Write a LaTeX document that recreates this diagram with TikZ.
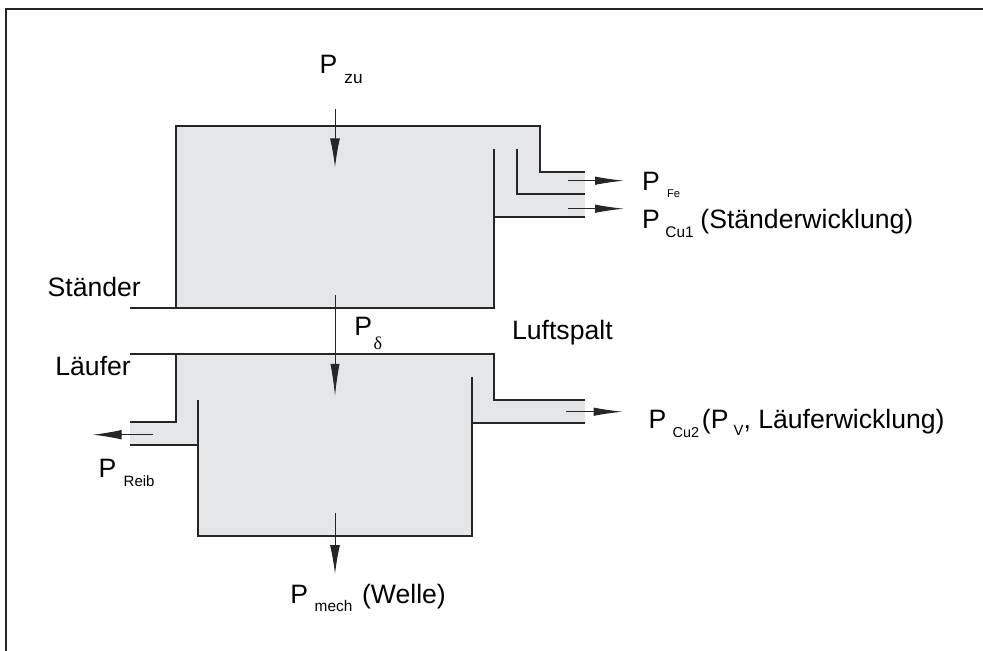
\documentclass[tikz,border=0pt]{standalone}
\usepackage{fontspec}
\setmainfont{Liberation Sans}
\newfontfamily\greekfont{Liberation Serif}
\usetikzlibrary{arrows.meta}

\definecolor{boxfill}{RGB}{229,230,232}
\definecolor{edge}{RGB}{38,38,38}

\begin{document}
\begin{tikzpicture}[x=0.5pt,y=-0.5pt,
  frameline/.style={draw=edge,line width=0.9pt},
  wall/.style={draw=edge,line width=1.05pt},
  flow/.style={draw=edge,line width=0.5pt,-{Latex[length=14.5pt,width=5pt]}},
  sideflow/.style={draw=edge,line width=0.5pt,-{Latex[length=14.5pt,width=4.2pt]}},
  lbl/.style={anchor=base west,inner sep=0pt,font=\fontsize{13.3}{15}\selectfont},
  sub/.style={anchor=base west,inner sep=0pt,font=\fontsize{7.5}{8}\selectfont}]

\useasboundingbox (0,0) rectangle (983,651);

% outer frame (top and left edges)
\draw[frameline] (983,9) -- (6,9) -- (6,651);

% ---------- Ständer ----------
\fill[boxfill] (176,126) -- (540,126) -- (540,172) -- (585,172) -- (585,217)
  -- (494,217) -- (494,308) -- (176,308) -- cycle;
\draw[wall] (130,308) -- (494,308) -- (494,149);
\draw[wall] (176,308) -- (176,126) -- (540,126) -- (540,172) -- (585,172);
\draw[wall] (517,149) -- (517,194) -- (585,194);
\draw[wall] (494,217) -- (585,217);

% ---------- Läufer ----------
\fill[boxfill] (176,354) -- (494,354) -- (494,400) -- (585,400) -- (585,423)
  -- (472,423) -- (472,536) -- (198,536) -- (198,445) -- (130,445)
  -- (130,422) -- (176,422) -- cycle;
\draw[wall] (130,354) -- (494,354) -- (494,400) -- (585,400);
\draw[wall] (176,354) -- (176,422) -- (130,422);
\draw[wall] (130,445) -- (198,445);
\draw[wall] (198,400) -- (198,536) -- (472,536) -- (472,377);
\draw[wall] (472,423) -- (585,423);

% ---------- power flow end points ----------
\coordinate (zuA) at (335,109);     \coordinate (zuB) at (335,167.3);
\coordinate (dA) at (335,295);      \coordinate (dB) at (335,396);
\coordinate (meA) at (335,513);     \coordinate (meB) at (335,574);
\coordinate (feA) at (567.7,180.7); \coordinate (feB) at (624,180.7);
\coordinate (cuA) at (567.7,208.7); \coordinate (cuB) at (624,208.7);
\coordinate (cvA) at (566,411.7);   \coordinate (cvB) at (622.7,411.7);
\coordinate (rbA) at (153,434.7);   \coordinate (rbB) at (92.7,434.7);

\draw[flow] (zuA) -- (zuB);
\draw[flow,-{Latex[length=16pt,width=4.6pt]}] (dA) -- (dB);
\draw[flow] (meA) -- (meB);
\draw[sideflow] (feA) -- (feB);
\draw[sideflow] (cuA) -- (cuB);
\draw[sideflow] (cvA) -- (cvB);
\draw[sideflow,-{Latex[length=14.5pt,width=4.8pt]}] (rbA) -- (rbB);

% ---------- labels ----------
\node[lbl] (pzu) at (319.3,73.3) {P};
\node[sub,font=\fontsize{8.6}{9}\selectfont] (pzus) at (344,83.3) {zu};

\node[lbl] (pfe) at (641.7,191) {P};
\node[sub,font=\fontsize{5.6}{6}\selectfont] (pfes) at (666.7,198) {Fe};

\node[lbl] (pcu1) at (641.7,228.3) {P};
\node[sub,font=\fontsize{7.7}{8}\selectfont] (pcu1s) at (665,237.3) {Cu1};
\node[lbl] (pcu1t) at (700,228.3) {(Ständerwicklung)};

\node[lbl] (staender) at (47.3,296.7) {Ständer};
\node[lbl] (laeufer) at (55,376) {Läufer};
\node[lbl] (luft) at (511.7,340) {Luftspalt};

\node[lbl] (pd) at (354,336) {P};
\node[sub,font=\fontsize{9}{9}\selectfont\greekfont] (pds) at (373.3,349.3) {δ};

\node[lbl] (pcu2) at (648.3,428.3) {P};
\node[sub,font=\fontsize{7.2}{8}\selectfont] (pcu2s) at (672.2,437.7) {Cu2};
\node[lbl] (pcu2t) at (701.5,428.3)
  {(P\hspace{2.6pt}\raisebox{-3.7pt}{\fontsize{7.4}{7}\selectfont V}, Läuferwicklung)};

\node[lbl] (preib) at (98.3,477.3) {P};
\node[sub] (preibs) at (123.3,486.7) {Reib};

\node[lbl] (pmech) at (290,603.3) {P};
\node[sub,font=\fontsize{7.7}{8}\selectfont] (pmechs) at (314.3,611.7) {mech};
\node[lbl] (pmecht) at (361.7,603.3) {(Welle)};

\end{tikzpicture}
\end{document}
